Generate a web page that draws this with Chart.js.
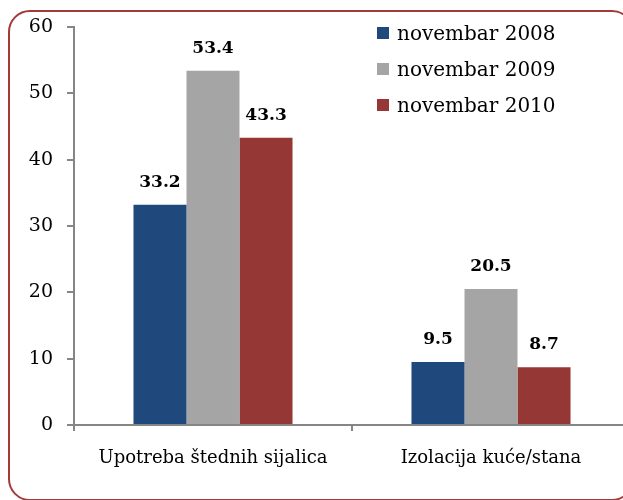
<!DOCTYPE html>
<html>
<head>
<meta charset="utf-8">
<script src="https://cdn.jsdelivr.net/npm/chart.js@4/dist/chart.umd.min.js"></script>
<style>
  html, body { margin: 0; padding: 0; background: #fff; overflow: hidden; }
  #wrap { position: relative; width: 623px; height: 500px; overflow: hidden; }
  #frame {
    position: absolute; left: 8px; top: 10px; width: 622px; height: 487px;
    border: 2px solid #a33a3a; border-radius: 22px;
  }
  #chart-box { position: absolute; left: 0; top: 0; width: 640px; height: 500px; }
  #legend {
    position: absolute; left: 377px; top: 15px;
    font-family: "DejaVu Serif", serif; font-size: 20px; color: #000;
  }
  #legend .item { display: flex; align-items: center; height: 36px; }
  #legend .sw { width: 12px; height: 12px; margin-right: 8px; }
</style>
</head>
<body>
<div id="wrap">
  <div id="frame"></div>
  <div id="chart-box"><canvas id="chart" width="640" height="500"></canvas></div>
  <div id="legend"></div>
</div>
<script>
// chart values
var CATEGORIES = ['Upotreba štednih sijalica', 'Izolacija kuće/stana'];
var SERIES_NAMES = ['novembar 2008', 'novembar 2009', 'novembar 2010'];
var SERIES_COLORS = ['#1f497d', '#a5a5a5', '#953735'];
var V2008 = [33.2, 9.5];
var V2009 = [53.4, 20.5];
var V2010 = [43.3, 8.7];
var Y_TICKS = [0, 10, 20, 30, 40, 50, 60];

(function() {
  var SERIF = '"DejaVu Serif", serif';
  var values = [V2008, V2009, V2010];

  // legend sits inside the plot area, so build it as html
  var leg = document.getElementById('legend');
  SERIES_NAMES.forEach(function(name, i) {
    var item = document.createElement('div');
    item.className = 'item';
    item.innerHTML = '<span class="sw" style="background:' + SERIES_COLORS[i] + '"></span><span>' + name + '</span>';
    leg.appendChild(item);
  });

  // value labels above bars
  var valueLabels = {
    id: 'valueLabels',
    afterDatasetsDraw: function(chart) {
      var ctx = chart.ctx;
      ctx.save();
      ctx.font = 'bold 17px ' + SERIF;
      ctx.fillStyle = '#000';
      ctx.textAlign = 'center';
      ctx.textBaseline = 'bottom';
      chart.data.datasets.forEach(function(ds, i) {
        chart.getDatasetMeta(i).data.forEach(function(bar, j) {
          ctx.fillText(ds.data[j].toFixed(1), bar.x, bar.y - 14);
        });
      });
      ctx.restore();
    }
  };

  new Chart(document.getElementById('chart'), {
    type: 'bar',
    data: {
      labels: CATEGORIES,
      datasets: SERIES_NAMES.map(function(name, i) {
        return {
          label: name,
          data: values[i],
          backgroundColor: SERIES_COLORS[i],
          borderWidth: 0,
          barPercentage: 1,
          categoryPercentage: 0.572
        };
      })
    },
    options: {
      responsive: false,
      animation: false,
      layout: { padding: { top: 27, right: 10, left: 0, bottom: 0 } },
      plugins: { legend: { display: false }, tooltip: { enabled: false } },
      scales: {
        x: {
          offset: true,
          border: { color: '#868686', width: 2 },
          grid: { offset: true, drawOnChartArea: false, color: '#868686', lineWidth: 2, tickLength: 6 },
          ticks: { color: '#000', font: { family: SERIF, size: 18 }, padding: 17, maxRotation: 0 },
          afterFit: function(s) { s.height = 75; }
        },
        y: {
          min: 0, max: 60,
          afterBuildTicks: function(s) { s.ticks = Y_TICKS.map(function(v) { return { value: v }; }); },
          border: { color: '#868686', width: 2 },
          grid: { drawOnChartArea: false, color: '#868686', lineWidth: 2, tickLength: 7 },
          ticks: { color: '#000', font: { family: SERIF, size: 19 }, padding: 14 },
          afterFit: function(s) { s.width = 74; }
        }
      }
    },
    plugins: [valueLabels]
  });
})();
</script>
</body>
</html>
